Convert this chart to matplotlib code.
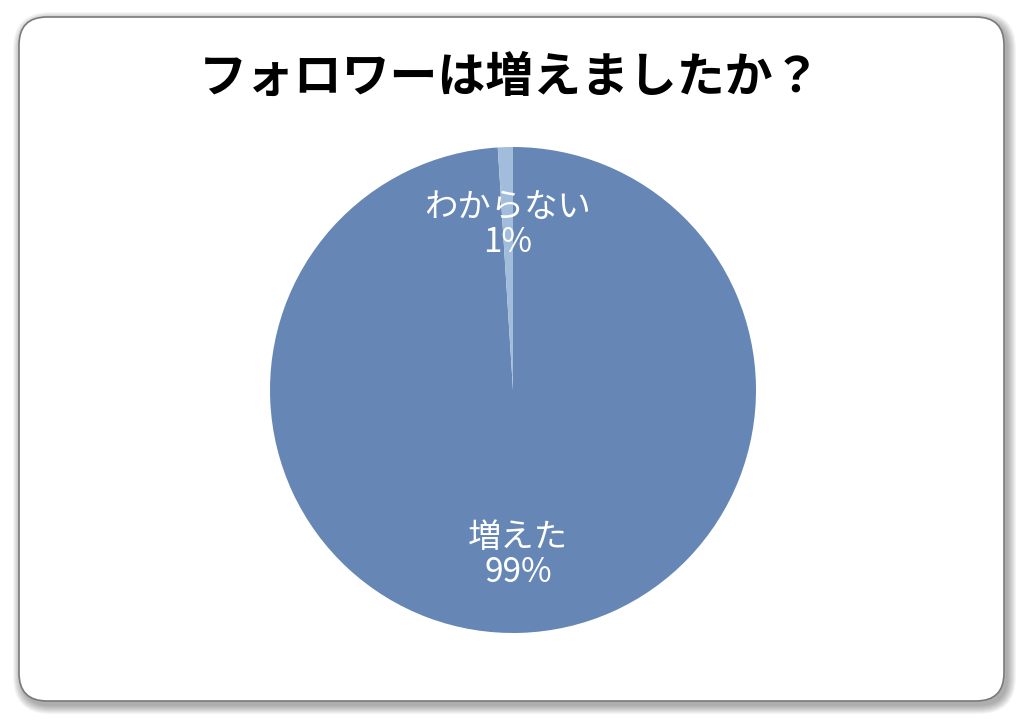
import matplotlib.pyplot as plt
from matplotlib.patches import FancyBboxPatch

plt.rcParams['font.family'] = ['Noto Sans CJK JP', 'DejaVu Sans']

# data
title = "フォロワーは増えましたか？"
categories = ["増えた", "わからない"]
shares = [99, 1]
colors = ["#6687b5", "#a2bddb"]

fig = plt.figure(figsize=(10.23, 7.21), dpi=100)
fig.patch.set_facecolor("white")

# background frame (pixel coordinates)
bg = fig.add_axes([0, 0, 1, 1])
bg.set_xlim(0, 1023)
bg.set_ylim(721, 0)
bg.axis("off")
x0, y0, w, h = 19, 17, 985, 684
for i in range(10, 0, -1):
    bg.add_patch(FancyBboxPatch((x0 + 3, y0 + 4), w, h,
                                boxstyle=f"round,pad={i*0.9},rounding_size={28 + i*0.9}",
                                facecolor="black", edgecolor="none", alpha=0.035))
bg.add_patch(FancyBboxPatch((x0, y0), w, h, boxstyle="round,pad=0,rounding_size=28",
                            facecolor="white", edgecolor="#7a7a7a", linewidth=1.2))

bg.text(510, 77, title, ha="center", va="center", fontsize=34.5, fontweight="bold",
        color="black")

# pie
r = 243
cx, cy = 513, 721 - 390
ax = fig.add_axes([(cx - r) / 1023, (cy - r) / 721, 2 * r / 1023, 2 * r / 721])
labels = [f"{c}\n{s}%" for c, s in zip(categories, shares)]
ax.pie(shares, labels=labels, colors=colors, startangle=90, counterclock=False,
       labeldistance=0.68, wedgeprops=dict(linewidth=0),
       textprops=dict(color="white", fontsize=24, fontweight="normal",
                      ha="center", va="center", linespacing=1.0))
ax.set_xlim(-1, 1)
ax.set_ylim(-1, 1)
ax.set_aspect("equal")

fig.savefig("out.png", dpi=100, facecolor="white")
